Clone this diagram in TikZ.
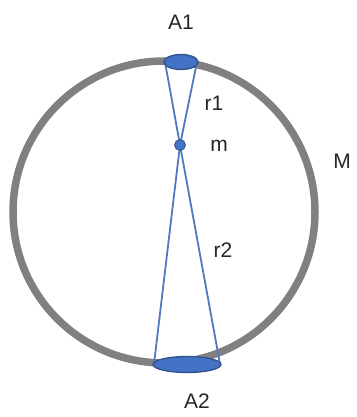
\documentclass[tikz,border=0pt]{standalone}
\usepackage{fontspec}
\setmainfont{Liberation Sans}
\usetikzlibrary{shapes.geometric}
\definecolor{ringgray}{RGB}{128,128,128}
\definecolor{fillblue}{RGB}{68,114,196}
\definecolor{edgeblue}{RGB}{47,82,143}
\definecolor{lineblue}{RGB}{79,120,190}
\begin{document}
\begin{tikzpicture}[x=1pt,y=-1pt,
  ring/.style={draw=ringgray,line width=7.5pt},
  disc/.style={draw=edgeblue,fill=fillblue,line width=1.3pt},
  ray/.style={draw=lineblue,line width=1.8pt},
  lbl/.style={font=\fontsize{21}{24}\selectfont,text=black!85,inner sep=0pt}]
\useasboundingbox (0,0) rectangle (356,417);
\draw[ring] (164,212) circle (151);
\coordinate (A1l) at (165,62);
\coordinate (A1r) at (197,62);
\coordinate (A2l) at (154,364);
\coordinate (A2r) at (220,364);
\coordinate (mc) at (180,145);
\draw[ray] (A1l) -- (mc) -- (A2r);
\draw[ray] (A1r) -- (mc) -- (A2l);
\node[disc,ellipse,minimum width=34pt,minimum height=15pt,inner sep=0pt] (A1) at (181,62) {};
\node[disc,ellipse,minimum width=68pt,minimum height=16pt,inner sep=0pt] (A2) at (187,364.5) {};
\node[disc,circle,minimum size=11pt,inner sep=0pt,line width=0.8pt] (m) at (mc) {};
\node[lbl] (tA1) at (181,22) {A1};
\node[lbl] (tr1) at (214,103) {r1};
\node[lbl] (tm) at (219,146) {m};
\node[lbl] (tM) at (342,161) {M};
\node[lbl] (tr2) at (223,250) {r2};
\node[lbl] (tA2) at (197,401) {A2};
\end{tikzpicture}
\end{document}
